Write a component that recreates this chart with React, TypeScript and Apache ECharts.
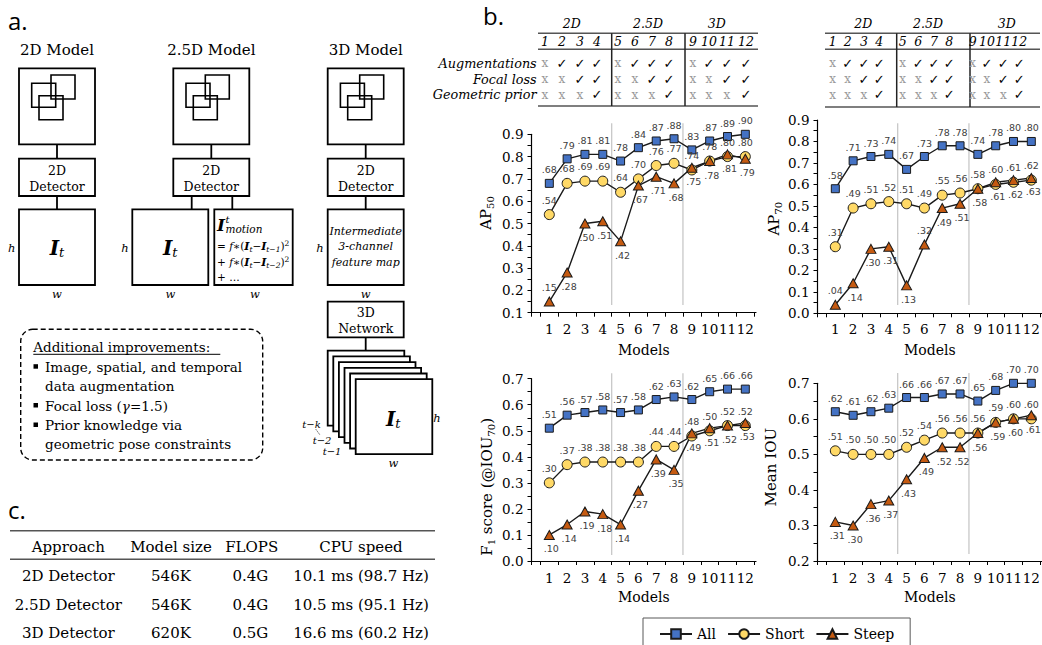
import React, { useEffect, useRef } from 'react';
import * as echarts from 'echarts';

const SERIF = "'DejaVu Serif', serif";
const SANS = "'DejaVu Sans', sans-serif";
const LABEL_SANS = "'Open Sans', 'Liberation Sans', sans-serif";

// ---------- data ----------
const models = [1, 2, 3, 4, 5, 6, 7, 8, 9, 10, 11, 12];
const xTickValues = [0, 0.5, 1.5, 2.5, 3.5, 4.5, 5.5, 6.5, 7.5, 8.5, 9.5, 10.5, 11.5, 12.5];
const seriesNames = ['All', 'Short', 'Steep'];

const ap50All = [0.68, 0.79, 0.81, 0.81, 0.78, 0.84, 0.87, 0.88, 0.83, 0.87, 0.89, 0.90];
const ap50Short = [0.54, 0.68, 0.69, 0.69, 0.64, 0.70, 0.76, 0.77, 0.74, 0.78, 0.80, 0.80];
const ap50Steep = [0.15, 0.28, 0.50, 0.51, 0.42, 0.67, 0.71, 0.68, 0.75, 0.78, 0.81, 0.79];

const ap70All = [0.58, 0.71, 0.73, 0.74, 0.67, 0.73, 0.78, 0.78, 0.74, 0.78, 0.80, 0.80];
const ap70Short = [0.31, 0.49, 0.51, 0.52, 0.51, 0.49, 0.55, 0.56, 0.58, 0.60, 0.61, 0.62];
const ap70Steep = [0.04, 0.14, 0.30, 0.31, 0.13, 0.32, 0.49, 0.51, 0.58, 0.61, 0.62, 0.63];

const f1All = [0.51, 0.56, 0.57, 0.58, 0.57, 0.58, 0.62, 0.63, 0.62, 0.65, 0.66, 0.66];
const f1Short = [0.30, 0.37, 0.38, 0.38, 0.38, 0.38, 0.44, 0.44, 0.48, 0.50, 0.52, 0.52];
const f1Steep = [0.10, 0.14, 0.19, 0.18, 0.14, 0.27, 0.39, 0.35, 0.49, 0.51, 0.52, 0.53];

const iouAll = [0.62, 0.61, 0.62, 0.63, 0.66, 0.66, 0.67, 0.67, 0.65, 0.68, 0.70, 0.70];
const iouShort = [0.51, 0.50, 0.50, 0.50, 0.52, 0.54, 0.56, 0.56, 0.56, 0.59, 0.60, 0.60];
const iouSteep = [0.31, 0.30, 0.36, 0.37, 0.43, 0.49, 0.52, 0.52, 0.56, 0.59, 0.60, 0.61];

// models whose "Steep" label sits above the marker
const ap50SteepAbove = [1];
const ap70SteepAbove = [1, 6];
const f1SteepAbove: number[] = [];
const iouSteepAbove: number[] = [];

const yTitles = ['AP{s|50}', 'AP{s|70}', 'F{s|1} score (@IOU{s|70})', 'Mean IOU'];
const yMins = [0.1, 0, 0, 0.2];
const yMaxs = [0.9, 0.9, 0.7, 0.7];
const dividerModels = [4.5, 8.5];
const dividerSpans = [[0.135, 0.949], [0.039, 0.885], [0.023, 0.721], [0.22, 0.729]];

const tableGroups = ['2D', '2.5D', '3D'];
const tableRows = ['Augmentations', 'Focal loss', 'Geometric prior'];
const tableMarks = [
  ['x', '✓', '✓', '✓'],
  ['x', 'x', '✓', '✓'],
  ['x', 'x', 'x', '✓'],
];

const tableHeaders = ['Approach', 'Model size', 'FLOPS', 'CPU speed'];
const approaches = ['2D Detector', '2.5D Detector', '3D Detector'];
const modelSizes = ['546K', '546K', '620K'];
const flops = ['0.4G', '0.4G', '0.5G'];
const cpuSpeeds = ['10.1 ms (98.7 Hz)', '10.5 ms (95.1 Hz)', '16.6 ms (60.2 Hz)'];

const modelTitles = ['2D Model', '2.5D Model', '3D Model'];

// ---------- layout ----------
const grids = [
  { left: 531.5, top: 134.3, width: 224.5, height: 178.4 },
  { left: 817.5, top: 120, width: 224.5, height: 193.3 },
  { left: 531.5, top: 378.7, width: 224.5, height: 182.3 },
  { left: 817.5, top: 383.3, width: 224.5, height: 177.7 },
];
const yNameGaps = [36, 34, 35, 37];
const yNamePads = [[0, 0, 0, 21], [0, 4, 0, 0], [0, 34, 0, 0], [0, 0, 0, 10]];
const xNameGaps = [30, 30, 29, 29];
const xLabelMargins = [9, 9, 10, 10];

const styles: Record<string, any> = {
  All: { symbol: 'rect', symbolSize: 8, color: '#4472C4' },
  Short: { symbol: 'circle', symbolSize: 10, color: '#FFD966' },
  Steep: { symbol: 'triangle', symbolSize: [10, 9], color: '#C55A11' },
};

function fmtLabel(p: any) {
  const v = p.value[1] as number;
  return '.' + v.toFixed(2).split('.')[1];
}

function lineSeries(name: string, values: number[], gi: number, above: number[] | null) {
  const st = styles[name];
  return {
    type: 'line',
    name,
    xAxisIndex: gi,
    yAxisIndex: gi,
    symbol: st.symbol,
    symbolSize: st.symbolSize,
    silent: true,
    z: 5,
    lineStyle: { color: '#1a1a1a', width: 1.4 },
    itemStyle: { color: st.color, borderColor: '#1a1a1a', borderWidth: 1 },
    label: {
      show: true,
      position: above ? 'bottom' : 'top',
      distance: 4,
      offset: above ? [2, 0] : [0, 0],
      formatter: fmtLabel,
      fontFamily: SANS,
      fontSize: 9.5,
      color: '#404040',
    },
    emphasis: { disabled: true },
    data: values.map((v, k) => {
      const item: any = { value: [models[k], v] };
      if (above && above.indexOf(models[k]) >= 0) {
        item.label = { position: 'top', offset: [0, 0] };
      }
      return item;
    }),
  };
}

function dividerSeries(gi: number) {
  return dividerModels.map((m) => ({
    type: 'line',
    name: 'divider',
    xAxisIndex: gi,
    yAxisIndex: gi,
    symbol: 'none',
    clip: false,
    silent: true,
    z: 1,
    lineStyle: { color: '#c8c8c8', width: 1.3 },
    emphasis: { disabled: true },
    data: [[m, dividerSpans[gi][0]], [m, dividerSpans[gi][1]]],
  }));
}

// ---------- graphic helpers ----------
function txt(x: number, y: number, text: string, size: number, extra: any = {}, align = 'center') {
  return {
    type: 'text',
    x,
    y,
    silent: true,
    z: 10,
    style: {
      text,
      fontSize: size,
      fontFamily: SERIF,
      fill: '#000',
      align,
      textAlign: align,
      verticalAlign: 'middle',
      textVerticalAlign: 'middle',
      ...extra,
    },
  };
}
function rect(x: number, y: number, w: number, h: number, lw = 1.8, fill = 'none', extra: any = {}) {
  return {
    type: 'rect',
    silent: true,
    z: 9,
    shape: { x, y, width: w, height: h, r: extra.r || 0 },
    style: { fill, stroke: '#000', lineWidth: lw, lineDash: extra.lineDash || null },
  };
}
function ln(x1: number, y1: number, x2: number, y2: number, lw = 1.8, color = '#000', dash: any = null) {
  return {
    type: 'line',
    silent: true,
    z: 9,
    shape: { x1, y1, x2, y2 },
    style: { stroke: color, lineWidth: lw, lineDash: dash },
  };
}

const itRich = {
  b: { fontSize: 20, fontStyle: 'italic', fontWeight: 'bold', fontFamily: SERIF, lineHeight: 22, verticalAlign: 'middle' },
  s: { fontSize: 13, fontStyle: 'italic', fontFamily: SERIF, lineHeight: 12, verticalAlign: 'bottom' },
};
function itLabel(x: number, y: number) {
  return txt(x, y, '{b|I}{s|t}', 20, { rich: itRich });
}

const formulaRich = {
  n: { fontSize: 10.5, fontFamily: SERIF, lineHeight: 14 },
  i: { fontSize: 10.5, fontFamily: SERIF, fontStyle: 'italic', lineHeight: 14 },
  b: { fontSize: 11, fontFamily: SERIF, fontStyle: 'italic', fontWeight: 'bold', lineHeight: 14 },
  s: { fontSize: 7.5, fontFamily: SERIF, fontStyle: 'italic', lineHeight: 8, verticalAlign: 'bottom' },
  p: { fontSize: 7.5, fontFamily: SERIF, lineHeight: 8, verticalAlign: 'top' },
};

function buildGraphics() {
  const g: any[] = [];
  // panel letters
  g.push(txt(8, 20, 'a.', 24, { fontFamily: LABEL_SANS }, 'left'));
  g.push(txt(483, 15, 'b.', 24, { fontFamily: LABEL_SANS }, 'left'));
  g.push(txt(8, 509, 'c.', 24, { fontFamily: LABEL_SANS }, 'left'));

  // ---- panel a ----
  const colLeft = [19, 173.3, 327.7];
  const bw = 76;
  colLeft.forEach((lx, i) => {
    const cx = lx + bw / 2;
    g.push(txt(cx, 49.5, modelTitles[i], 15));
    g.push(rect(lx, 68.3, bw, 76));
    g.push(rect(lx + 12.7, 83.3, 24, 24, 1.6));
    g.push(rect(lx + 32, 75, 24, 24, 1.6));
    g.push(rect(lx + 20, 95.7, 24, 24, 1.6));
    g.push(ln(cx, 144.3, cx, 158.7));
    g.push(rect(lx, 158.7, bw, 37.3));
    g.push(txt(cx, 170.5, '2D', 12.5));
    g.push(txt(cx, 186, 'Detector', 12.5));
  });
  // 2D model bottom
  g.push(ln(57, 196, 57, 209.3));
  g.push(rect(19, 209.3, 76, 75.7));
  g.push(itLabel(57, 248));
  g.push(txt(11.7, 248.3, 'h', 11.5, { fontStyle: 'italic' }));
  g.push(txt(57, 294, 'w', 11.5, { fontStyle: 'italic' }));
  // 2.5D model bottom
  g.push(ln(191.7, 196, 191.7, 209.3));
  g.push(ln(232.3, 196, 232.3, 209.3));
  g.push(rect(132.3, 209.3, 76, 75.7));
  g.push(rect(214.3, 209.3, 78.4, 75.7));
  g.push(itLabel(170.3, 248));
  g.push(txt(125, 248.3, 'h', 11.5, { fontStyle: 'italic' }));
  g.push(txt(170.3, 294, 'w', 11.5, { fontStyle: 'italic' }));
  g.push(txt(255, 294, 'w', 11.5, { fontStyle: 'italic' }));
  g.push(txt(217, 225, 'I', 17, { fontStyle: 'italic', fontWeight: 'bold' }, 'left'));
  g.push(txt(225.5, 219, 't', 10, { fontStyle: 'italic' }, 'left'));
  g.push(txt(225.5, 229, 'motion', 10.5, { fontStyle: 'italic' }, 'left'));
  g.push(txt(217, 246, '{n|= }{i|f}{n|∗(}{b|I}{s|t}{n|−}{b|I}{s|t−1}{n|)}{p|2}', 10.5, { rich: formulaRich }, 'left'));
  g.push(txt(217, 262, '{n|+ }{i|f}{n|∗(}{b|I}{s|t}{n|−}{b|I}{s|t−2}{n|)}{p|2}', 10.5, { rich: formulaRich }, 'left'));
  g.push(txt(217, 277, '+ …', 10.5, {}, 'left'));
  // 3D model bottom
  g.push(ln(365.7, 196, 365.7, 209.3));
  g.push(rect(327.7, 209.3, 76, 75.7));
  g.push(txt(365.7, 231.7, 'Intermediate', 11, { fontStyle: 'italic' }));
  g.push(txt(365.7, 246.7, '3-channel', 11, { fontStyle: 'italic' }));
  g.push(txt(365.7, 262.3, 'feature map', 11, { fontStyle: 'italic' }));
  g.push(txt(320, 248.3, 'h', 11.5, { fontStyle: 'italic' }));
  g.push(txt(365.7, 294, 'w', 11.5, { fontStyle: 'italic' }));
  g.push(rect(327.7, 301.7, 76, 35.6));
  g.push(txt(365.7, 312, '3D', 12.5));
  g.push(txt(365.7, 328.5, 'Network', 12.5));
  g.push(ln(365.7, 337.3, 365.7, 350.7));
  for (let k = 0; k < 6; k++) {
    g.push(rect(327.7 + 5.6 * k, 350.7 + 5.7 * k, 76.6, 75, 1.8, '#fff'));
  }
  g.push(itLabel(393.3, 419));
  g.push(txt(437, 418, 'h', 11.5, { fontStyle: 'italic' }));
  g.push(txt(393.3, 463, 'w', 11.5, { fontStyle: 'italic' }));
  g.push(txt(311.5, 424, 't−k', 10, { fontStyle: 'italic' }));
  g.push(txt(322, 440, 't−2', 10, { fontStyle: 'italic' }));
  g.push(txt(332, 451.5, 't−1', 10, { fontStyle: 'italic' }));
  g.push(ln(316, 429.5, 320, 435, 1, '#000', [1, 1.5]));

  // improvements box
  g.push(rect(20.7, 329.3, 242, 130.7, 1.4, 'none', { r: 12, lineDash: [5, 3] }));
  g.push(txt(33.3, 346.8, 'Additional improvements:', 13.5, {}, 'left'));
  g.push(ln(33.3, 354.3, 220.3, 354.3, 1));
  const bulletLines = [
    { t: 'Image, spatial, and temporal', y: 366.7, b: true },
    { t: 'data augmentation', y: 385.7, b: false },
    { t: '{n|Focal loss (}{i|γ}{n|=1.5)}', y: 405.5, b: true },
    { t: 'Prior knowledge via', y: 425, b: true },
    { t: 'geometric pose constraints', y: 444, b: false },
  ];
  bulletLines.forEach((l) => {
    if (l.b) {
      g.push({
        type: 'rect', silent: true, z: 10,
        shape: { x: 33.5, y: l.y - 2.5, width: 4.5, height: 4.5 },
        style: { fill: '#000' },
      });
    }
    g.push(txt(45, l.y, l.t, 13.5, {
      rich: {
        n: { fontSize: 13.5, fontFamily: SERIF },
        i: { fontSize: 13.5, fontFamily: SERIF, fontStyle: 'italic' },
      },
    }, 'left'));
  });

  // ---- panel b tables ----
  const tables = [
    {
      x0: 538, x1: 758, seps: [611.7, 685],
      cols: [545, 562, 580, 597, 618, 635, 652, 669, 693, 709, 727, 746],
      heads: [571.7, 648, 716.7], rowLabels: true, bottom: 106,
    },
    {
      x0: 825, x1: 1040, seps: [896.7, 970],
      cols: [832.7, 847.7, 864, 879.3, 902.7, 918.3, 934, 949.3, 972.7, 987, 1003.3, 1019.3],
      heads: [863.3, 928, 1006.7], rowLabels: false, bottom: 107,
    },
  ];
  const rowYs = [63.3, 79, 94.5];
  tables.forEach((tb) => {
    tableGroups.forEach((h, i) => g.push(txt(tb.heads[i], 23, h, 12.5, { fontStyle: 'italic' })));
    g.push(ln(tb.x0, 33.3, tb.x1, 33.3, 1.5, '#555'));
    g.push(ln(tb.x0, 49.3, tb.x1, 49.3, 1.5, '#555'));
    g.push(ln(tb.x0, tb.bottom, tb.x1, tb.bottom, 1.5, '#555'));
    tb.seps.forEach((sx) => g.push(ln(sx, 33.3, sx, tb.bottom, 1.5, '#222')));
    models.forEach((m, k) => g.push(txt(tb.cols[k], 41, String(m), 12.5, { fontStyle: 'italic' })));
    tableRows.forEach((r, ri) => {
      if (tb.rowLabels) g.push(txt(536.7, rowYs[ri], r, 12.8, { fontStyle: 'italic' }, 'right'));
      models.forEach((m, k) => {
        const mark = tableMarks[ri][k % 4];
        if (mark === 'x') {
          g.push(txt(tb.cols[k], rowYs[ri], 'x', 12, { fill: '#9a9a9a' }));
        } else {
          g.push(txt(tb.cols[k], rowYs[ri], '✓', 13, { fontFamily: SANS }));
        }
      });
    });
  });

  // ---- panel c table ----
  g.push(ln(10, 530.7, 435, 530.7, 1.5, '#555'));
  g.push(ln(10, 559.3, 435, 559.3, 1.5, '#555'));
  const cX = [68.3, 171, 251.7, 361];
  tableHeaders.forEach((h, i) => g.push(txt(cX[i], 547, h, 15)));
  const rowY = [576, 605, 633.3];
  approaches.forEach((a, r) => {
    g.push(txt(68.3, rowY[r], a, 15));
    g.push(txt(171, rowY[r], modelSizes[r], 15));
    g.push(txt(268.3, rowY[r], flops[r], 15, {}, 'right'));
    g.push(txt(361, rowY[r], cpuSpeeds[r], 15));
  });
  return g;
}

function buildOption() {
  const groups = [
    [ap50All, ap50Short, ap50Steep, ap50SteepAbove],
    [ap70All, ap70Short, ap70Steep, ap70SteepAbove],
    [f1All, f1Short, f1Steep, f1SteepAbove],
    [iouAll, iouShort, iouSteep, iouSteepAbove],
  ] as any[];

  const series: any[] = [];
  groups.forEach((grp, gi) => {
    series.push(...dividerSeries(gi));
    series.push(lineSeries('All', grp[0], gi, null));
    series.push(lineSeries('Short', grp[1], gi, null));
    series.push(lineSeries('Steep', grp[2], gi, grp[3]));
  });

  return {
    animation: false,
    backgroundColor: '#fff',
    textStyle: { fontFamily: SERIF },
    grid: grids.map((g) => ({ ...g, containLabel: false, outerBoundsMode: 'none' })),
    xAxis: grids.map((_, gi) => ({
      gridIndex: gi,
      type: 'value',
      min: 0,
      max: 12.6,
      name: 'Models',
      nameLocation: 'middle',
      nameGap: xNameGaps[gi],
      nameTextStyle: { fontFamily: SERIF, fontSize: 14, color: '#000' },
      axisLine: { show: true, onZero: false, lineStyle: { color: '#000', width: 1.2 } },
      axisTick: { show: true, length: 4, customValues: xTickValues, lineStyle: { color: '#000', width: 1 } },
      axisLabel: { customValues: models, fontFamily: SERIF, fontSize: 13.5, color: '#000', margin: xLabelMargins[gi] },
      splitLine: { show: false },
      minorTick: { show: false },
    })),
    yAxis: grids.map((_, gi) => ({
      gridIndex: gi,
      type: 'value',
      min: yMins[gi],
      max: yMaxs[gi],
      interval: 0.1,
      name: yTitles[gi],
      nameLocation: 'middle',
      nameGap: yNameGaps[gi],
      nameRotate: 90,
      nameTextStyle: {
        fontFamily: SERIF,
        fontSize: 15,
        color: '#000',
        lineHeight: 20,
        padding: yNamePads[gi],
        rich: { s: { fontFamily: SERIF, fontSize: 10, lineHeight: 10, verticalAlign: 'bottom', color: '#000' } },
      },
      axisLine: { show: true, onZero: false, lineStyle: { color: '#000', width: 1.2 } },
      axisTick: { show: true, length: 4, lineStyle: { color: '#000', width: 1 } },
      minorTick: { show: true, splitNumber: 2, length: 4, lineStyle: { color: '#000', width: 1 } },
      axisLabel: {
        formatter: (v: number) => v.toFixed(1),
        fontFamily: SERIF,
        fontSize: 13.5,
        color: '#000',
        margin: 8,
      },
      splitLine: { show: false },
    })),
    legend: {
      data: seriesNames,
      left: 643,
      top: 618,
      orient: 'horizontal',
      padding: [9, 16, 9, 16],
      itemWidth: 32,
      itemHeight: 12,
      itemGap: 11,
      borderColor: '#595959',
      borderWidth: 1,
      selectedMode: false,
      textStyle: { fontFamily: SERIF, fontSize: 14, color: '#000' },
    },
    graphic: buildGraphics(),
    series,
  };
}

export default function App() {
  const ref = useRef<HTMLDivElement>(null);
  useEffect(() => {
    const chart = echarts.init(ref.current as HTMLDivElement, null, { renderer: 'svg' });
    chart.setOption(buildOption() as any);
    return () => chart.dispose();
  }, []);
  return (
    <div
      ref={ref}
      style={{ position: 'fixed', left: 0, top: 0, width: 1042, height: 645, background: '#fff' }}
    />
  );
}
